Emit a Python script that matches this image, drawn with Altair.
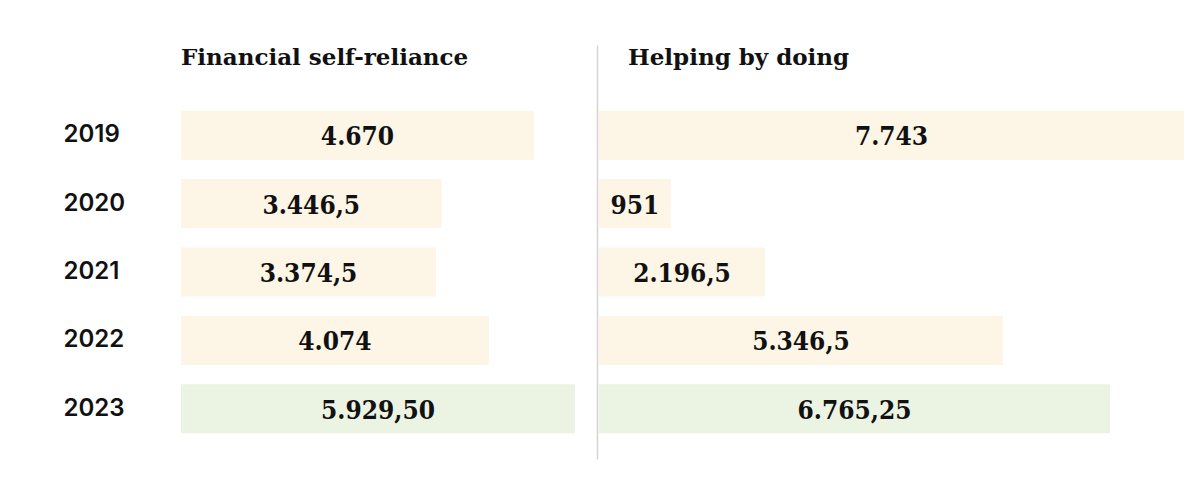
import altair as alt
import pandas as pd

years = ["2019", "2020", "2021", "2022", "2023"]
fin_values = [4670, 3446.5, 3374.5, 4074, 5929.5]
fin_labels = ["4.670", "3.446,5", "3.374,5", "4.074", "5.929,50"]
help_values = [7743, 951, 2196.5, 5346.5, 6765.25]
help_labels = ["7.743", "951", "2.196,5", "5.346,5", "6.765,25"]
panel_titles = ["Financial self-reliance", "Helping by doing"]
highlight_year = "2023"

CREAM = "#fdf5e5"
GREEN = "#ebf3e2"
INK = "#111111"
NUM_FONT = "DejaVu Serif Condensed, DejaVu Serif"
TITLE_FONT = "DejaVu Serif"
YEAR_FONT = "Inter"

LEFT_W, RIGHT_W, H = 394, 585, 342
LEFT_MAX, RIGHT_MAX = 5213, 7743


def make_df(values, labels, dmax):
    df = pd.DataFrame({"year": years, "value": values, "label": labels})
    df["mid"] = df["value"].clip(upper=dmax) / 2
    df["kind"] = ["current" if y == highlight_year else "past" for y in years]
    return df


def panel(values, labels, dmax, width, title, title_x, show_years, extra):
    df = make_df(values, labels, dmax)
    if show_years:
        yaxis = alt.Axis(
            title=None, domain=False, ticks=False, labelAlign="left",
            labelPadding=118, labelFont=YEAR_FONT, labelFontSize=24,
            labelFontWeight=600, labelColor=INK, grid=False,
        )
    else:
        yaxis = None
    y = alt.Y("year:N", sort=years,
              scale=alt.Scale(paddingInner=0.283, paddingOuter=0.1415),
              axis=yaxis)
    xs = alt.Scale(domain=[0, dmax], nice=False, zero=True)
    base = alt.Chart(df)
    bars = base.mark_bar(clip=True).encode(
        x=alt.X("value:Q", scale=xs, axis=None),
        y=y,
        color=alt.Color("kind:N", scale=alt.Scale(domain=["past", "current"], range=[CREAM, GREEN]), legend=None),
    )
    text = base.mark_text(
        font=NUM_FONT, fontSize=26, fontWeight="bold", baseline="middle",
        align="center", dy=2, color=INK,
    ).encode(
        x=alt.X("mid:Q", scale=xs, axis=None),
        y=y,
        text="label:N",
    )
    ttl = alt.Chart(pd.DataFrame({"t": [title]})).mark_text(
        font=TITLE_FONT, fontSize=23, fontWeight="bold", align="left",
        baseline="alphabetic", color=INK,
    ).encode(x=alt.value(title_x), y=alt.value(-36), text="t:N")
    layers = [bars, text, ttl] + extra
    return alt.layer(*layers).properties(width=width, height=H)


anchor = alt.Chart(pd.DataFrame({"a": [0]})).mark_rule(opacity=0, strokeWidth=0).encode(
    x=alt.value(-173), x2=alt.value(-173), y=alt.value(-92.4), y2=alt.value(-92.4)
)
divider = alt.Chart(pd.DataFrame({"a": [0]})).mark_rule(color="#d4d4d4", strokeWidth=1.5).encode(
    x=alt.value(-1.5), y=alt.value(-55.4), y2=alt.value(358.6)
)

left = panel(fin_values, fin_labels, LEFT_MAX, LEFT_W, panel_titles[0], 0, True, [anchor])
right = panel(help_values, help_labels, RIGHT_MAX, RIGHT_W, panel_titles[1], 29, False, [divider])

chart = alt.hconcat(left, right, spacing=21).resolve_scale(x="independent").properties(
    padding=0, background="white"
).configure_view(strokeWidth=0)

chart.save("out.html", embed_options={"renderer": "svg", "actions": False})
